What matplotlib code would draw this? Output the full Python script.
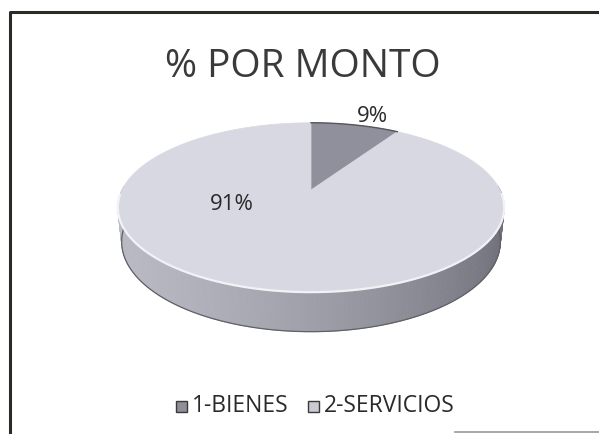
import numpy as np
import matplotlib
matplotlib.use("Agg")
import matplotlib.pyplot as plt
from matplotlib.patches import Polygon, Rectangle

# ─── DATA ──────────────────────────────────────────────────────────────────────
categories = ["1-BIENES", "2-SERVICIOS"]
values = [9, 91]
labels = ["9%", "91%"]
title = "% POR MONTO"
# ───────────────────────────────────────────────────────────────────────────────

top_colors = ["#8f909b", "#d7d8e2"]
FONT = ["Open Sans", "DejaVu Sans"]

# perspective camera for the 3d pie (unit radius disk)
CX, CY = 311, 190
ELEV = np.radians(25.4)
DIST, FOC = 4.38, 828
THICK = 0.2


def proj(X, Y, Z):
    c, s = np.cos(ELEV), np.sin(ELEV)
    up = Z * c + Y * s
    depth = DIST + Y * c - Z * s
    return CX + FOC * X / depth, CY - FOC * up / depth


fig = plt.figure(figsize=(5.99, 4.34), dpi=100, facecolor="white")
ax = fig.add_axes([0, 0, 1, 1])
ax.set_xlim(0, 599)
ax.set_ylim(434, 0)
ax.axis("off")

# frame (scanned, cut at right/bottom)
ax.plot([10, 10, 599], [434, 12, 12], color="#2b2b25", lw=2.2, solid_capstyle="butt")
ax.plot([455, 599], [432, 432], color="#9a9a90", lw=1.2)

# slice angles, starting at 12 o'clock going clockwise
frac = np.array(values, dtype=float) / sum(values)
edges = np.pi / 2 - 2 * np.pi * np.concatenate([[0], np.cumsum(frac)])

# ── side of the pie ──
n = 360
t = np.linspace(np.pi / 2, np.pi / 2 - 2 * np.pi, n + 1)
order = np.argsort(-np.sin((t[:-1] + t[1:]) / 2))  # back first
for i in order:
    a0, a1 = t[i], t[i + 1]
    m = (a0 + a1) / 2
    if np.sin(m) > 0.05:
        continue
    xs0, ys0 = proj(np.cos(a0), np.sin(a0), 0)
    xs1, ys1 = proj(np.cos(a1), np.sin(a1), 0)
    xb1, yb1 = proj(np.cos(a1), np.sin(a1), -THICK)
    xb0, yb0 = proj(np.cos(a0), np.sin(a0), -THICK)
    # shade: lighter on left, darker towards the right
    k = (np.cos(m) + 1) / 2
    g = 0.73 - 0.30 * k ** 1.5
    col = (g, g, g + 0.04)
    ax.add_patch(Polygon([[xs0, ys0], [xs1, ys1], [xb1, yb1], [xb0, yb0]],
                         closed=True, fc=col, ec=col, lw=0.6, zorder=2))

# bottom outline
tb = np.linspace(np.pi, 2 * np.pi, 200)
xb, yb = proj(np.cos(tb), np.sin(tb), -THICK)
ax.plot(xb, yb, color="#5f6166", lw=0.9, zorder=3)

# ── top wedges ──
for j in range(len(values)):
    tt = np.linspace(edges[j], edges[j + 1], 200)
    xs, ys = proj(np.cos(tt), np.sin(tt), 0)
    x0, y0 = proj(0, 0, 0)
    pts = np.column_stack([np.r_[x0, xs], np.r_[y0, ys]])
    ax.add_patch(Polygon(pts, closed=True, fc=top_colors[j], ec=top_colors[j],
                         lw=0.5, zorder=4))

# light rim on the front edge
tr = np.linspace(np.pi * 1.02, 2 * np.pi - 0.05, 200)
xr, yr = proj(np.cos(tr), np.sin(tr), 0)
ax.plot(xr, yr, color="#f2f2f6", lw=1.6, zorder=5)
# darker edge on back of small slice
tt = np.linspace(edges[0], edges[1], 50)
xs, ys = proj(np.cos(tt), np.sin(tt), 0)
ax.plot(xs, ys, color="#55565c", lw=1.0, zorder=5)

# ── labels ──
ax.text(303, 67, title, fontsize=28, color="#3a3a3a", ha="center", va="center",
        family=FONT, zorder=6)
ax.text(372, 116, labels[0], fontsize=16, color="#2a2a2a", ha="center", va="center",
        family=FONT, zorder=6)
ax.text(232, 205, labels[1], fontsize=16, color="#2a2a2a", ha="center", va="center",
        family=FONT, zorder=6)

# ── legend ──
leg_x = [176, 308]
leg_fc = ["#8e8f98", "#c9cad2"]
for j, name in enumerate(categories):
    ax.add_patch(Rectangle((leg_x[j], 401), 11, 11, fc=leg_fc[j], ec="#3a3a3a",
                           lw=1.0, zorder=5))
    ax.text(leg_x[j] + 16, 406, name, fontsize=16.5, color="#2a2a2a",
            ha="left", va="center", family=FONT, zorder=6)

fig.savefig("out.png", dpi=100, facecolor="white")
